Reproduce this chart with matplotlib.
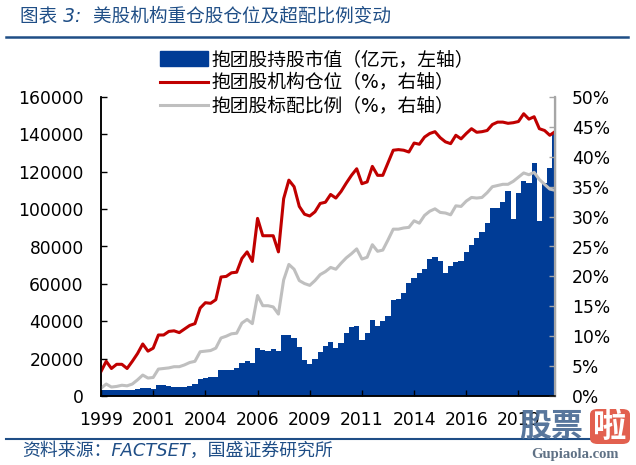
import numpy as np
import matplotlib
matplotlib.use('Agg')
from matplotlib import pyplot as plt
from matplotlib.lines import Line2D
from matplotlib.patches import FancyBboxPatch, Patch

plt.rcParams['font.family'] = ['DejaVu Sans', 'Noto Sans CJK SC']

# quarterly values
market_value = [3000, 3200, 3000, 3000, 3200, 3200, 3300, 3800, 4300, 4200,
                4000, 6000, 6000, 5600, 5000, 4800, 5000, 5300, 6500, 9300,
                9800, 10000, 10300, 14000, 14000, 14000, 15000, 17500, 18800, 17500,
                25500, 24500, 24000, 25300, 24000, 32500, 32500, 31000, 26000, 19000,
                17000, 20000, 23700, 26800, 29000, 25500, 28500, 33500, 36800, 37500,
                30000, 33500, 40700, 37500, 40400, 43000, 51400, 52000, 55000, 60400,
                63400, 66000, 67800, 73200, 74300, 72500, 66000, 69300, 71600, 72500,
                77300, 81000, 84500, 87500, 92500, 100500, 100500, 104000, 109500, 94600,
                108500, 115000, 114000, 124600, 93400, 114000, 122000, 141000]
position = [4.1, 5.8, 4.6, 5.3, 5.3, 4.6, 5.8, 7.1, 8.7, 7.5,
            8.0, 10.2, 10.2, 10.8, 10.9, 10.6, 11.2, 11.8, 12.1, 14.7,
            15.6, 15.5, 16.1, 19.9, 20.0, 20.6, 20.7, 23.0, 24.1, 22.5,
            29.7, 26.8, 26.8, 26.8, 24.1, 33.0, 36.1, 35.0, 31.7, 30.4,
            30.1, 30.8, 32.2, 32.4, 33.7, 33.1, 34.2, 35.6, 36.9, 38.0,
            35.5, 35.8, 38.4, 36.9, 36.9, 39.0, 41.1, 41.2, 41.1, 40.8,
            42.3, 42.1, 43.3, 43.9, 44.2, 43.2, 42.5, 42.2, 43.6, 43.0,
            43.9, 44.7, 44.1, 44.2, 44.4, 45.4, 45.8, 45.8, 45.6, 45.7,
            45.9, 47.2, 46.3, 46.7, 44.7, 44.4, 43.6, 44.2]
benchmark = [1.3, 2.0, 1.5, 1.6, 1.8, 1.7, 2.0, 2.7, 3.5, 3.0,
             3.1, 4.5, 4.6, 4.7, 4.9, 4.9, 5.2, 5.6, 5.8, 7.4,
             7.5, 7.6, 8.0, 9.7, 10.0, 10.4, 10.5, 12.2, 12.8, 12.1,
             16.8, 15.1, 15.1, 14.9, 13.7, 19.4, 22.0, 21.2, 19.3, 18.8,
             18.5, 19.3, 20.3, 20.8, 21.5, 21.2, 22.2, 23.1, 23.8, 24.6,
             22.9, 23.2, 25.3, 24.2, 24.4, 26.1, 27.9, 27.9, 28.1, 28.2,
             29.3, 28.9, 30.2, 30.9, 31.3, 30.7, 30.6, 30.3, 31.8, 31.7,
             32.6, 33.2, 33.1, 33.2, 34.0, 35.0, 35.2, 35.4, 35.4, 35.9,
             36.6, 37.3, 37.0, 37.4, 36.2, 35.4, 34.6, 34.4]
year_labels = ['1999', '2001', '2004', '2006', '2009', '2011', '2014', '2016', '2019']
left_ticks = [0, 20000, 40000, 60000, 80000, 100000, 120000, 140000, 160000]
right_ticks = [0, 5, 10, 15, 20, 25, 30, 35, 40, 45, 50]

W, H = 636, 465
BLUE = '#003C96'
RED = '#C00000'
GRAY = '#BFBFBF'
NAVY = '#1F4E86'

fig = plt.figure(figsize=(W / 100, H / 100), dpi=100)
ax = fig.add_axes([101 / W, (H - 396) / H, 454 / W, 299 / H])
ax2 = ax.twinx()

x = np.arange(len(market_value))
ax.bar(x, market_value, width=1.0, color=BLUE, linewidth=0)
ax2.plot(x, position, color=RED, lw=2.2)
ax2.plot(x, benchmark, color=GRAY, lw=2.2)

ax.set_xlim(0, 87)
ax.set_ylim(0, 160000)
ax2.set_ylim(0, 50)
ax.set_xticks(np.arange(0, 90, 10))
ax.set_xticklabels(year_labels)
ax.set_yticks(left_ticks)
ax2.set_yticks(right_ticks)
ax2.set_yticklabels([f'{v}%' for v in right_ticks])

ax.tick_params(axis='both', direction='in', length=4, width=1, labelsize=12.3)
ax.tick_params(axis='y', pad=12.5)
ax.tick_params(axis='x', pad=11)
ax2.tick_params(axis='y', direction='in', length=4, width=1, color='#A6A6A6', labelsize=12.3, pad=12)

for a in (ax, ax2):
    a.spines['top'].set_visible(False)
    a.spines['left'].set_linewidth(1.1)
    a.spines['bottom'].set_linewidth(1.1)
ax2.spines['right'].set_color('#A6A6A6')
ax2.spines['right'].set_linewidth(1.6)

# legend
handles = [Patch(color=BLUE), Line2D([], [], color=RED, lw=2.2), Line2D([], [], color=GRAY, lw=2.2)]
labels = ['抱团股持股市值（亿元，左轴）', '抱团股机构仓位（%，右轴）', '抱团股标配比例（%，右轴）']
fig.legend(handles, labels, loc='upper left', bbox_to_anchor=(160 / W, 1 - 50 / H), frameon=False,
           fontsize=13.5, handlelength=2.56, handleheight=0.9, handletextpad=0.2, labelspacing=0.25,
           borderpad=0, borderaxespad=0)

# title, rules, source
fig.text(20 / W, 1 - 16 / H, '图表 3:  美股机构重仓股仓位及超配比例变动', color=NAVY, fontsize=13.4,
         style='italic', va='center')
fig.add_artist(Line2D([6 / W, 628 / W], [1 - 37 / H, 1 - 37 / H], color=NAVY, lw=1.8))
fig.add_artist(Line2D([6 / W, 600 / W], [1 - 439 / H, 1 - 439 / H], color=NAVY, lw=1.5))
fig.text(22 / W, 1 - 451 / H, '资料来源：FACTSET，国盛证券研究所', color=NAVY, fontsize=12.9,
         style='italic', va='center')

# site watermark
fig.text(551 / W, 1 - 427 / H, '股票', color='#4F6F97', fontsize=23, fontweight='bold',
         ha='center', va='center', alpha=0.95, zorder=10)
fig.add_artist(FancyBboxPatch((590 / W, 1 - 444 / H), 40 / W, 35 / H, boxstyle='round,pad=0,rounding_size=0.012',
                              facecolor='#E2604F', edgecolor='none', transform=fig.transFigure, zorder=10))
fig.text(610 / W, 1 - 427 / H, '啦', color='white', fontsize=24, fontweight='bold',
         ha='center', va='center', zorder=11)
fig.text(575 / W, 1 - 454 / H, 'Gupiaola.com', color='#5F7185', fontsize=10.5, family='Liberation Serif',
         fontweight='bold', ha='center', va='center', zorder=10)

fig.savefig('out.png', dpi=100)
